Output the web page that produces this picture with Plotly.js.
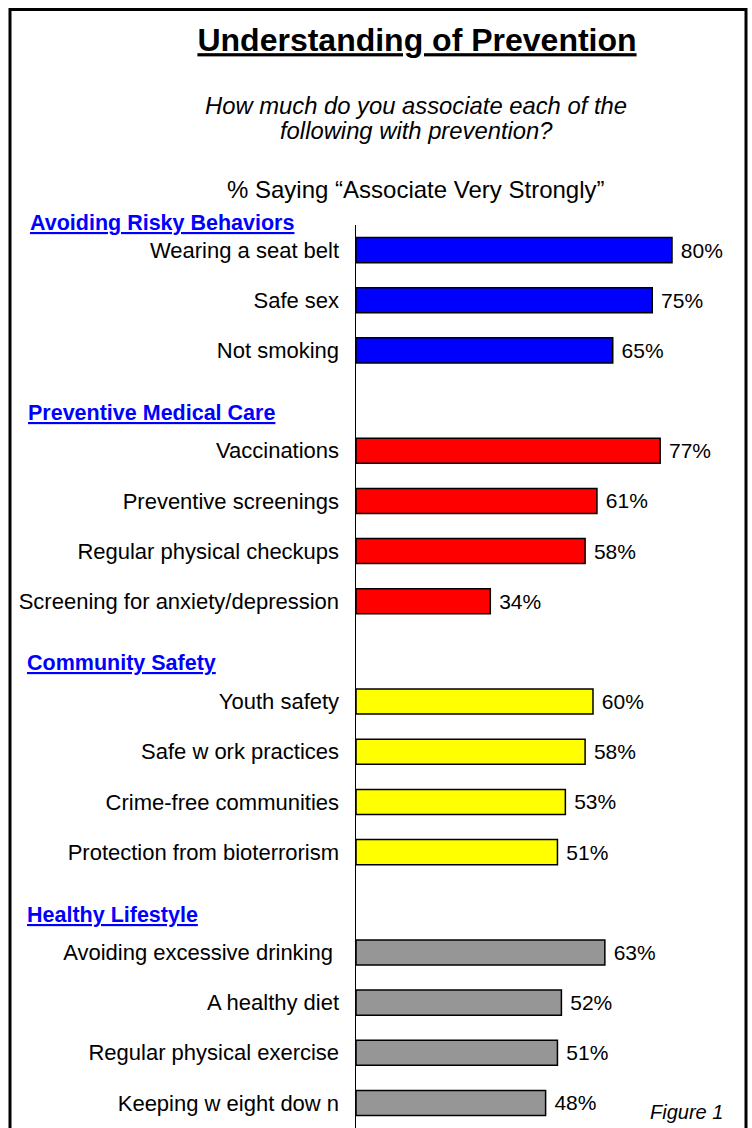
<!DOCTYPE html>
<html>
<head>
<meta charset="utf-8">
<script src="https://cdn.plot.ly/plotly-3.0.1.min.js"></script>
<style>html,body{margin:0;padding:0;background:#fff;}#chart{width:752px;height:1128px;}</style>
</head>
<body>
<div id="chart"></div>
<script>
// ---- data ----
const groupNames = ['Avoiding Risky Behaviors', 'Preventive Medical Care', 'Community Safety', 'Healthy Lifestyle'];
const riskyLabels = ['Wearing a seat belt', 'Safe sex', 'Not smoking'];
const riskyValues = [80, 75, 65];
const medicalLabels = ['Vaccinations', 'Preventive screenings', 'Regular physical checkups', 'Screening for anxiety/depression'];
const medicalValues = [77, 61, 58, 34];
const communityLabels = ['Youth safety', 'Safe w ork practices', 'Crime-free communities', 'Protection from bioterrorism'];
const communityValues = [60, 58, 53, 51];
const lifestyleLabels = ['Avoiding excessive drinking\u00A0', 'A healthy diet', 'Regular physical exercise', 'Keeping w eight dow n'];
const lifestyleValues = [63, 52, 51, 48];

const groupLabels = [riskyLabels, medicalLabels, communityLabels, lifestyleLabels];
const groupValues = [riskyValues, medicalValues, communityValues, lifestyleValues];
const groupColors = ['#0000FF', '#FF0000', '#FFFF00', '#969696'];

// ---- layout geometry ----
const W = 752, H = 1128;
const ML = 356, MT = 225, MR = 2, MB = 0;
const PW = W - ML - MR, PH = H - MT - MB;
const px2x = p => (p - ML) / PW;
const py2y = p => (H - MB - p) / PH;
const FONT = 'Liberation Sans, Arial, Helvetica, sans-serif';

const traces = [];
const tickvals = [], ticktext = [];
let row = 0;
let lastRow = 0;
groupLabels.forEach((labels, g) => {
  const ys = labels.map((_, i) => row + i);
  ys.forEach((y, i) => { tickvals.push(y); ticktext.push(labels[i]); });
  lastRow = ys[ys.length - 1];
  traces.push({
    type: 'bar',
    orientation: 'h',
    x: groupValues[g],
    y: ys,
    width: 0.5,
    marker: { color: groupColors[g], line: { color: '#000', width: 1.5 } },
    text: groupValues[g].map(v => '\u00A0' + v + '%'),
    textposition: 'outside',
    outsidetextfont: { family: FONT, size: 21, color: '#000' },
    cliponaxis: false,
    hoverinfo: 'skip',
    showlegend: false
  });
  row += labels.length + 1;
});

const headerPx = [[28, 223], [26, 413], [25, 663], [25, 915]];
const annotations = groupNames.map((name, g) => ({
  xref: 'paper', yref: 'paper',
  x: px2x(headerPx[g][0]), y: py2y(headerPx[g][1]),
  xanchor: 'left', yanchor: 'middle',
  text: '<b>' + name + '</b>',
  showarrow: false,
  font: { family: FONT, size: 21.5, color: '#0000FF', lineposition: 'under' }
}));

annotations.push({
  xref: 'paper', yref: 'paper', x: px2x(416), y: py2y(105),
  xanchor: 'center', yanchor: 'middle', showarrow: false,
  text: '<i>How much do you associate each of the</i>',
  font: { family: FONT, size: 23.8, color: '#000' }
});
annotations.push({
  xref: 'paper', yref: 'paper', x: px2x(416), y: py2y(131),
  xanchor: 'center', yanchor: 'middle', showarrow: false,
  text: '<i>following with prevention?</i>',
  font: { family: FONT, size: 23.8, color: '#000' }
});
annotations.push({
  xref: 'paper', yref: 'paper', x: px2x(416), y: py2y(190),
  xanchor: 'center', yanchor: 'middle', showarrow: false,
  text: '% Saying \u201CAssociate Very Strongly\u201D',
  font: { family: FONT, size: 24, color: '#000' }
});
annotations.push({
  xref: 'paper', yref: 'paper', x: px2x(686), y: py2y(1112),
  xanchor: 'center', yanchor: 'middle', showarrow: false,
  text: '<i>Figure 1</i>',
  font: { family: FONT, size: 20, color: '#000' }
});

const layout = {
  width: W, height: H,
  margin: { l: ML, r: MR, t: MT, b: MB, pad: 0 },
  paper_bgcolor: '#fff', plot_bgcolor: '#fff',
  title: {
    text: '<b>Understanding of Prevention</b>',
    x: 417 / W, xanchor: 'center', xref: 'container',
    y: 1 - 40 / H, yanchor: 'middle', yref: 'container',
    font: { family: FONT, size: 32, color: '#000', lineposition: 'under' }
  },
  xaxis: { range: [0, PW / 3.95], visible: false, fixedrange: true },
  yaxis: {
    range: [lastRow + 0.5, -0.5],
    tickvals: tickvals, ticktext: ticktext,
    showline: true, linecolor: '#000', linewidth: 1.5,
    showgrid: false, zeroline: false, ticks: '',
    ticklabelstandoff: 11,
    tickfont: { family: FONT, size: 22, color: '#000' },
    fixedrange: true
  },
  bargap: 0,
  annotations: annotations,
  shapes: [{
    type: 'rect', xref: 'paper', yref: 'paper',
    x0: px2x(10), x1: px2x(746), y0: py2y(1140), y1: py2y(9.5),
    line: { color: '#000', width: 3 }, fillcolor: 'rgba(0,0,0,0)', layer: 'above'
  }]
};

Plotly.newPlot('chart', traces, layout, { displayModeBar: false, staticPlot: true });
</script>
</body>
</html>
